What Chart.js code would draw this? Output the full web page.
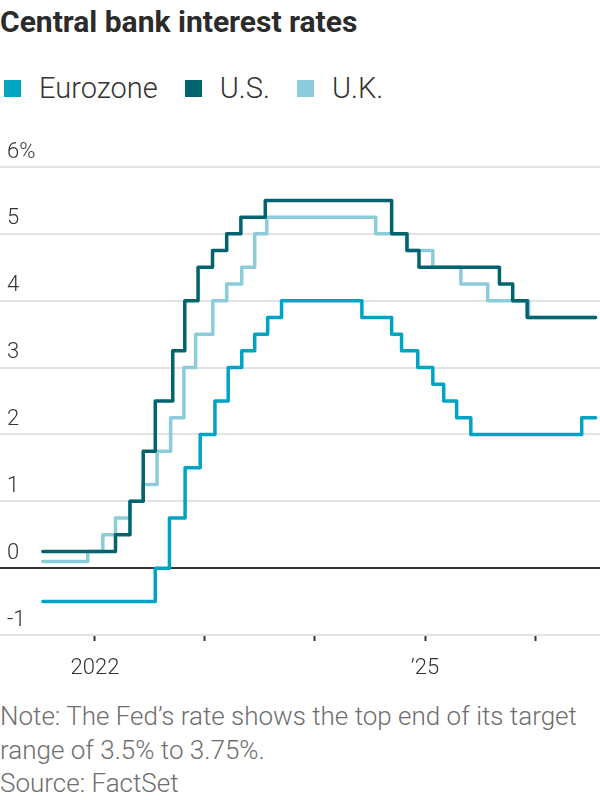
<!DOCTYPE html>
<html>
<head>
<meta charset="utf-8">
<script src="https://cdn.jsdelivr.net/npm/chart.js@4"></script>
<style>
  html, body { margin: 0; padding: 0; background: #fff; }
  body { width: 600px; height: 800px; position: relative; overflow: hidden; font-family: Roboto, "Noto Sans", sans-serif; color: #333; }
  #title { position: absolute; left: 0; top: 4px; font-size: 30px; font-weight: 700; line-height: 36px; color: #2b2b2b; letter-spacing: 0; }
  #legend { position: absolute; left: 4px; top: 72px; height: 32px; display: flex; align-items: center; font-size: 29px; font-weight: 300; color: #333; }
  .item { display: flex; align-items: center; margin-right: 27px; }
  .swatch { width: 17px; height: 17px; margin-right: 18px; }
  #wrap { position: absolute; left: 0; top: 120px; width: 600px; height: 570px; }
  #note { position: absolute; left: 0; top: 700px; font-size: 26px; font-weight: 300; line-height: 33.5px; color: #6e6e6e; letter-spacing: 0; }
</style>
</head>
<body>
<div id="title">Central bank interest rates</div>
<div id="legend"></div>
<div id="wrap"><canvas id="chart"></canvas></div>
<div id="note">Note: The Fed’s rate shows the top end of its target<br>range of 3.5% to 3.75%.<br>Source: FactSet</div>

<script>
// step dates (change dates) and the rate that starts on each date
const euroDates = ['2021-07-12', '2022-07-20', '2022-09-05', '2022-10-27', '2022-12-16', '2023-02-03',
    '2023-03-19', '2023-05-03', '2023-06-15', '2023-07-28', '2023-09-12', '2024-06-05', '2024-09-12',
    '2024-10-15', '2024-12-08', '2025-01-27', '2025-03-04', '2025-04-16', '2025-06-02', '2026-06-05',
    '2026-07-21'];
const euroRates = [-0.5, 0, 0.75, 1.5, 2, 2.5, 3, 3.25, 3.5, 3.75, 4, 3.75, 3.5, 3.25, 3, 2.75, 2.5, 2.25,
    2, 2.25, 2.25];

const usDates = ['2021-07-12', '2022-03-10', '2022-04-27', '2022-06-10', '2022-07-20', '2022-09-16',
    '2022-10-26', '2022-12-09', '2023-01-26', '2023-03-14', '2023-04-30', '2023-07-20', '2024-09-12',
    '2024-11-02', '2024-12-12', '2025-09-05', '2025-10-19', '2025-12-06', '2026-07-21'];
const usRates = [0.25, 0.5, 1, 1.75, 2.5, 3.25, 4, 4.5, 4.75, 5, 5.25, 5.5, 5, 4.75, 4.5, 4.25, 4, 3.75, 3.75];

const ukDates = ['2021-07-12', '2021-12-08', '2022-01-27', '2022-03-10', '2022-04-27', '2022-06-09',
    '2022-07-26', '2022-09-09', '2022-10-23', '2022-12-01', '2023-01-27', '2023-03-14', '2023-05-03',
    '2023-06-15', '2023-07-25', '2024-07-21', '2024-11-02', '2025-01-27', '2025-04-30', '2025-07-28',
    '2025-12-11', '2026-07-21'];
const ukRates = [0.1, 0.25, 0.5, 0.75, 1, 1.25, 1.75, 2.25, 3, 3.5, 4, 4.25, 4.5, 5, 5.25, 5, 4.75, 4.5,
    4.25, 4, 3.75, 3.75];

const seriesNames = ['Eurozone', 'U.S.', 'U.K.'];
const seriesColors = ['#00a4c2', '#00636e', '#8ccbd9'];

const yearTicks = [2022, 2023, 2024, 2025, 2026];
const yearLabels = { 2022: '2022', 2025: '’25' };
const rateTicks = [-1, 0, 1, 2, 3, 4, 5, 6];

function toYear(s) {
    const d = new Date(s + 'T00:00:00Z');
    const y = d.getUTCFullYear();
    const start = Date.UTC(y, 0, 1), end = Date.UTC(y + 1, 0, 1);
    return y + (d - start) / (end - start);
}

function points(dates, rates) {
    return dates.map((d, i) => ({ x: toYear(d), y: rates[i] }));
}

// legend
const legend = document.getElementById('legend');
seriesNames.forEach((name, i) => {
    const el = document.createElement('div');
    el.className = 'item';
    el.innerHTML = `<span class="swatch" style="background:${seriesColors[i]}"></span>${name}`;
    legend.appendChild(el);
});

const line = (label, data, color, order) => ({
    label, data,
    borderColor: color,
    borderWidth: 3.5,
    borderJoinStyle: 'round',
    borderCapStyle: 'round',
    stepped: true,
    pointRadius: 0,
    fill: false,
    order
});

new Chart(document.getElementById('chart'), {
    type: 'line',
    data: {
        datasets: [
            line(seriesNames[0], points(euroDates, euroRates), seriesColors[0], 3),
            line(seriesNames[2], points(ukDates, ukRates), seriesColors[2], 2),
            line(seriesNames[1], points(usDates, usRates), seriesColors[1], 1)
        ]
    },
    options: {
        responsive: true,
        maintainAspectRatio: false,
        animation: false,
        layout: { padding: { top: 47, left: 0, right: 0, bottom: 0 } },
        plugins: { legend: { display: false }, tooltip: { enabled: false } },
        scales: {
            x: {
                type: 'linear',
                min: 2022 - 95 / 110,
                max: 2022 + 505 / 110,
                afterBuildTicks: s => { s.ticks = yearTicks.map(v => ({ value: v })); },
                afterFit: s => { s.height = 55; },
                border: { display: false },
                grid: { drawOnChartArea: false, drawTicks: true, tickLength: 6, tickColor: '#333', tickWidth: 2 },
                ticks: {
                    autoSkip: false, maxRotation: 0, padding: 14,
                    color: '#333',
                    font: { family: 'Roboto', size: 22, weight: 300 },
                    callback: v => yearLabels[v] || ''
                }
            },
            y: {
                min: -1, max: 6,
                afterBuildTicks: s => { s.ticks = rateTicks.map(v => ({ value: v })); },
                afterFit: s => { s.width = 0; },
                border: { display: false },
                grid: {
                    drawTicks: false,
                    lineWidth: 2,
                    color: c => c.tick && c.tick.value === 0 ? '#333' : '#e3e3e3'
                },
                ticks: {
                    mirror: true, padding: 7, labelOffset: -15,
                    color: '#333',
                    font: { family: 'Roboto', size: 22, weight: 300 },
                    callback: v => v === 6 ? '6%' : String(v)
                }
            }
        }
    }
});
</script>
</body>
</html>
